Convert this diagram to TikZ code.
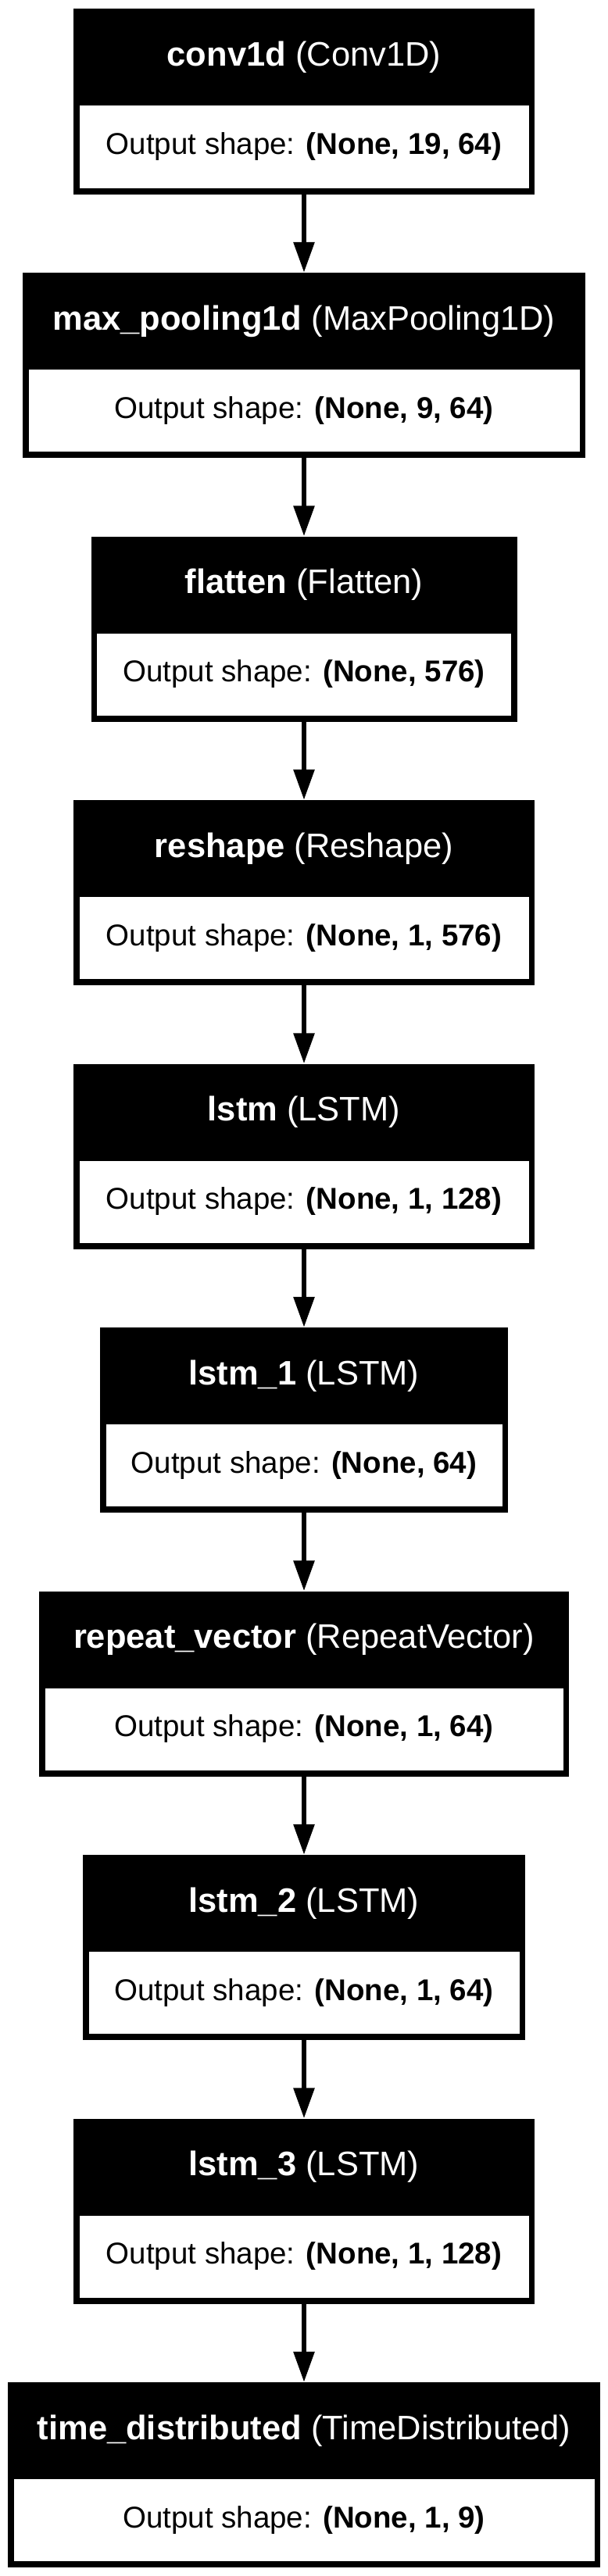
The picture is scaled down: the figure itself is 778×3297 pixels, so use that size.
\documentclass[tikz,border=0pt]{standalone}
\usepackage{fontspec}
\setmainfont{Liberation Sans}
\usetikzlibrary{arrows.meta}

\tikzset{
  layerbox/.style={fill=black, inner sep=0pt, minimum height=237pt},
  headtext/.style={text=white, inner sep=0pt, font=\fontsize{43.5}{50}\selectfont},
  shapebox/.style={fill=white, inner sep=0pt, minimum height=105pt, font=\fontsize{38.5}{44}\selectfont},
  flow/.style={line width=6pt, -{Triangle[length=39pt,width=26pt]}}
}

\begin{document}
\begin{tikzpicture}[x=1pt,y=1pt]
            \useasboundingbox (0,0) rectangle (778,-3297);

            % conv1d
            \node[layerbox, minimum width=590pt] (conv) at (389,-130) {};
            \node[headtext] (convhead) at (389,-73.5) {\textbf{conv1d} (Conv1D)};
            \node[shapebox, minimum width=575pt] (convout) at (389,-188) {Output shape: \textbf{(None, 19, 64)}};

            % max_pooling1d
            \node[layerbox, minimum width=720pt] (pool) at (389,-467.5) {};
            \node[headtext] (poolhead) at (389,-411) {\textbf{max\_pooling1d} (MaxPooling1D)};
            \node[shapebox, minimum width=705pt] (poolout) at (389,-525.5) {Output shape: \textbf{(None, 9, 64)}};

            % flatten
            \node[layerbox, minimum width=545pt] (flat) at (389,-805) {};
            \node[headtext] (flathead) at (389,-748.5) {\textbf{flatten} (Flatten)};
            \node[shapebox, minimum width=530pt] (flatout) at (389,-863) {Output shape: \textbf{(None, 576)}};

            % reshape
            \node[layerbox, minimum width=590pt] (resh) at (389,-1142.5) {};
            \node[headtext] (reshhead) at (389,-1086) {\textbf{reshape} (Reshape)};
            \node[shapebox, minimum width=575pt] (reshout) at (389,-1200.5) {Output shape: \textbf{(None, 1, 576)}};

            % lstm
            \node[layerbox, minimum width=590pt] (lstma) at (389,-1480) {};
            \node[headtext] (lstmahead) at (389,-1423.5) {\textbf{lstm} (LSTM)};
            \node[shapebox, minimum width=575pt] (lstmaout) at (389,-1538) {Output shape: \textbf{(None, 1, 128)}};

            % lstm_1
            \node[layerbox, minimum width=522pt] (lstmb) at (389,-1817.5) {};
            \node[headtext] (lstmbhead) at (389,-1761) {\textbf{lstm\_1} (LSTM)};
            \node[shapebox, minimum width=507pt] (lstmbout) at (389,-1875.5) {Output shape: \textbf{(None, 64)}};

            % repeat_vector
            \node[layerbox, minimum width=678pt] (rep) at (389,-2155) {};
            \node[headtext] (rephead) at (389,-2098.5) {\textbf{repeat\_vector} (RepeatVector)};
            \node[shapebox, minimum width=663pt] (repout) at (389,-2213) {Output shape: \textbf{(None, 1, 64)}};

            % lstm_2
            \node[layerbox, minimum width=566pt] (lstmc) at (389,-2492.5) {};
            \node[headtext] (lstmchead) at (389,-2436) {\textbf{lstm\_2} (LSTM)};
            \node[shapebox, minimum width=551pt] (lstmcout) at (389,-2550.5) {Output shape: \textbf{(None, 1, 64)}};

            % lstm_3
            \node[layerbox, minimum width=590pt] (lstmd) at (389,-2830) {};
            \node[headtext] (lstmdhead) at (389,-2773.5) {\textbf{lstm\_3} (LSTM)};
            \node[shapebox, minimum width=575pt] (lstmdout) at (389,-2888) {Output shape: \textbf{(None, 1, 128)}};

            % time_distributed
            \node[layerbox, minimum width=758pt] (timed) at (389,-3167.5) {};
            \node[headtext] (timedhead) at (389,-3111) {\textbf{time\_distributed} (TimeDistributed)};
            \node[shapebox, minimum width=743pt] (timedout) at (389,-3225.5) {Output shape: \textbf{(None, 1, 9)}};

            \draw[flow] (conv) -- (pool);
            \draw[flow] (pool) -- (flat);
            \draw[flow] (flat) -- (resh);
            \draw[flow] (resh) -- (lstma);
            \draw[flow] (lstma) -- (lstmb);
            \draw[flow] (lstmb) -- (rep);
            \draw[flow] (rep) -- (lstmc);
            \draw[flow] (lstmc) -- (lstmd);
            \draw[flow] (lstmd) -- (timed);
        \end{tikzpicture}
\end{document}
